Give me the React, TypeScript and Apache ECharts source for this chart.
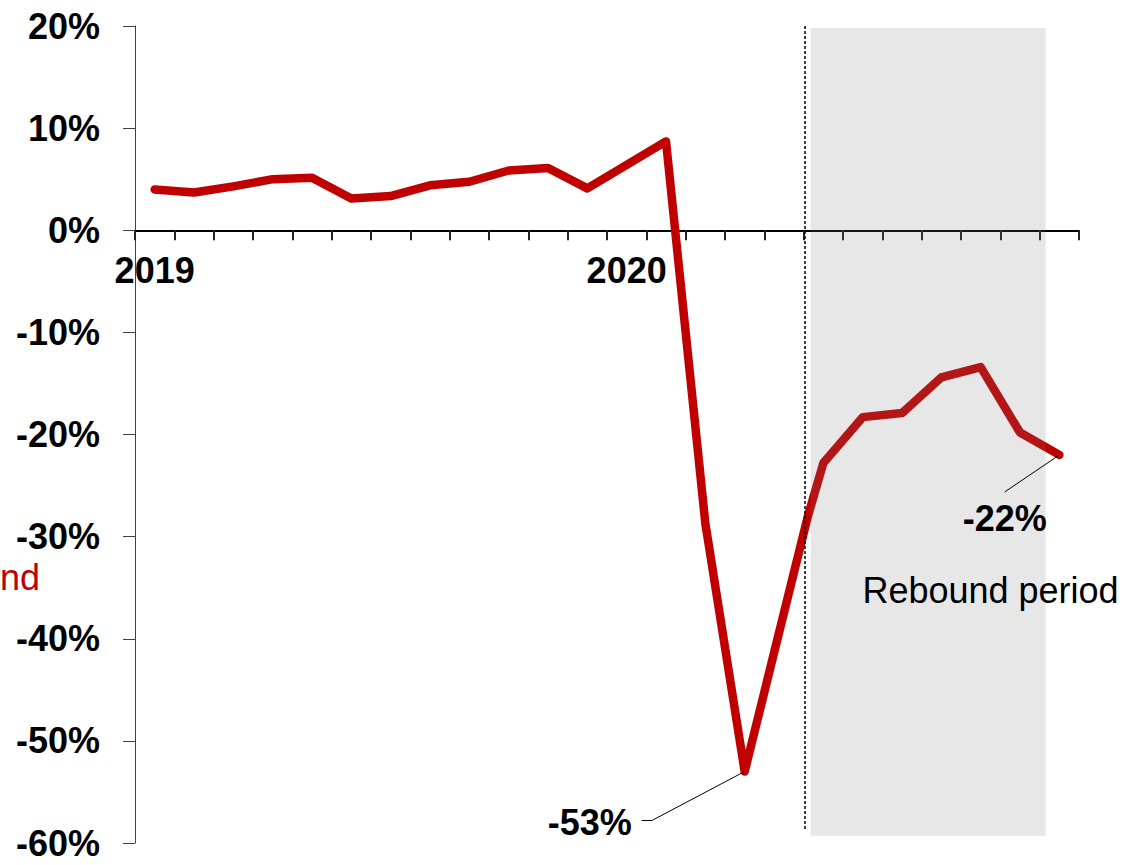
import React, { useEffect, useRef } from "react";
import * as echarts from "echarts";

// Monthly categories (Jan 2019 – Dec 2020)
const months = [
  "2019-01", "2019-02", "2019-03", "2019-04", "2019-05", "2019-06",
  "2019-07", "2019-08", "2019-09", "2019-10", "2019-11", "2019-12",
  "2020-01", "2020-02", "2020-03", "2020-04", "2020-05", "2020-06",
  "2020-07", "2020-08", "2020-09", "2020-10", "2020-11", "2020-12",
];

// Position of each observation along the month axis (month index + 0.5 = centre of month)
const obsX = [
  0.5, 1.5, 2.5, 3.5, 4.5, 5.5, 6.5, 7.5, 8.5, 9.5, 10.5, 11.5,
  12.5, 13.5, 14.5, 15.5, 17.1, 17.5, 18.5, 19.5, 20.5, 21.5, 22.5, 23.5,
];

// Year-over-year change, %
const growth = [
  4.0, 3.7, 4.3, 5.0, 5.15, 3.1, 3.35, 4.4, 4.75, 5.85, 6.1, 4.1,
  6.4, 8.7, -28.7, -53, -28.1, -22.8, -18.3, -17.9, -14.4, -13.4, -19.8, -22.0,
];

const yTicks = { min: -60, max: 20, interval: 10 };

// Rebound period (in month-axis units) and its start marker
const reboundStart = 17.18;
const reboundEnd = 23.15;
const reboundMarker = 17.04;

const FONT = "'Liberation Sans', Arial, sans-serif";
const RED = "#c00000";

const W = 1127;
const H = 865;
const GRID = { left: 135, right: 48, top: 26, bottom: 22 };

export default function App() {
  const ref = useRef<HTMLDivElement>(null);

  useEffect(() => {
    document.body.style.margin = "0";
    const chart = echarts.init(ref.current!, null, { renderer: "svg" });

    const data = obsX.map((x, i) => [x, growth[i]]);
    const minIdx = growth.indexOf(Math.min(...growth));
    const lastIdx = growth.length - 1;
    const minPt = data[minIdx];
    const lastPt = data[lastIdx];

    // put the category axis on the 0% line
    const gridH = H - GRID.top - GRID.bottom;
    const zeroOffset = -gridH * (0 - yTicks.min) / (yTicks.max - yTicks.min);

    const textLabel = (txt: string, coord: number[], bold: boolean) => ({
      coord,
      symbol: "circle",
      symbolSize: 0,
      label: {
        show: true,
        position: "inside",
        formatter: txt,
        color: "#000",
        fontFamily: FONT,
        fontSize: 36,
        fontWeight: bold ? "bold" : "normal",
      },
    });

    chart.setOption({
      animation: false,
      grid: { ...GRID, containLabel: false, outerBoundsMode: "none" },
      xAxis: [
        {
          type: "category",
          data: months,
          boundaryGap: true,
          position: "bottom",
          offset: zeroOffset,
          axisLine: { onZero: false, lineStyle: { color: "#000", width: 2 } },
          axisTick: { show: true, interval: 0, length: 10, lineStyle: { color: "#222", width: 2 } },
          axisLabel: {
            interval: 0,
            margin: 22,
            formatter: (v: string) => (v.endsWith("-01") ? v.slice(0, 4) : ""),
            color: "#000",
            fontFamily: FONT,
            fontSize: 36,
            fontWeight: "bold",
          },
          splitLine: { show: false },
        },
        {
          type: "value",
          min: 0,
          max: months.length,
          show: false,
        },
      ],
      yAxis: {
        type: "value",
        min: yTicks.min,
        max: yTicks.max,
        interval: yTicks.interval,
        axisLine: { show: true, onZero: false, lineStyle: { color: "#404040", width: 1 } },
        axisTick: { show: true, length: 12, lineStyle: { color: "#404040", width: 1 } },
        axisLabel: {
          margin: 35,
          formatter: (v: number) => `${v}%`,
          color: "#000",
          fontFamily: FONT,
          fontSize: 36,
          fontWeight: "bold",
        },
        splitLine: { show: false },
      },
      series: [
        {
          type: "line",
          xAxisIndex: 1,
          data,
          symbol: "none",
          z: 2,
          lineStyle: { color: RED, width: 8.5, cap: "round", join: "round" },
          markArea: {
            silent: true,
            z: 4,
            itemStyle: { color: "rgba(120,120,120,0.18)" },
            data: [[{ coord: [reboundStart, 19.8] }, { coord: [reboundEnd, -59.3] }]],
          },
          markLine: {
            silent: true,
            symbol: "none",
            z: 5,
            label: { show: false },
            data: [
              [
                { coord: [reboundMarker, 20], lineStyle: { type: [3, 2], color: "#000", width: 1.5 } },
                { coord: [reboundMarker, -58.7] },
              ],
              [
                { coord: minPt, lineStyle: { type: "solid", color: "#000", width: 1 } },
                { coord: [13.16, -57.76] },
              ],
              [
                { coord: [13.16, -57.76], lineStyle: { type: "solid", color: "#000", width: 1 } },
                { coord: [12.88, -57.76] },
              ],
              [
                { coord: lastPt, lineStyle: { type: "solid", color: "#000", width: 1 } },
                { coord: [22.11, -25.63] },
              ],
            ],
          },
          markPoint: {
            silent: true,
            z: 6,
            data: [
              textLabel(`${growth[minIdx]}%`, [11.56, -57.95], true),
              textLabel(`${growth[lastIdx]}%`, [22.11, -28.18], true),
              textLabel("Rebound period", [21.75, -35.23], false),
            ],
          },
        },
      ],
      graphic: [
        {
          type: "text",
          x: 0,
          y: 577,
          style: {
            text: "nd",
            fill: RED,
            font: `36px ${FONT}`,
            textAlign: "left",
            textVerticalAlign: "middle",
          },
        },
      ],
    });

    return () => chart.dispose();
  }, []);

  return <div ref={ref} style={{ width: W, height: H }} />;
}
